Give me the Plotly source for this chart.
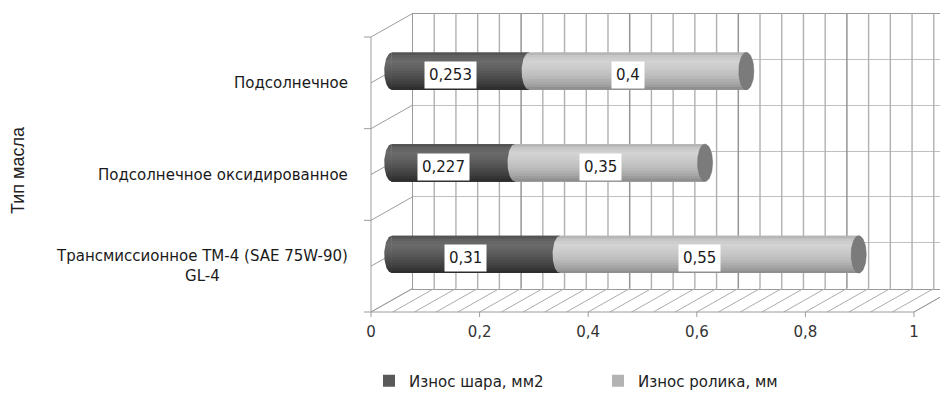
import numpy as np
import plotly.graph_objects as go

# ---------------- data ----------------
categories = ["Подсолнечное",
              "Подсолнечное оксидированное",
              "Трансмиссионное ТМ-4 (SAE 75W-90)<br>GL-4"]
ball_wear = [0.253, 0.227, 0.31]      # Износ шара, мм2
roller_wear = [0.4, 0.35, 0.55]       # Износ ролика, мм
series_names = ["Износ шара, мм2", "Износ ролика, мм"]
x_tick_vals = [0, 0.2, 0.4, 0.6, 0.8, 1.0]
x_tick_labels = ["0", "0,2", "0,4", "0,6", "0,8", "1"]
axis_title = "Тип масла"

# ---------------- geometry (pixels) ----------------
W, H = 940, 403
SX = 543.0             # px per value unit
SY = 275.0 / 3         # px per category
FX0, FY0 = 371.0, 312.0   # front plane: value 0 / bottom of category axis
DX, DY = 41.5, 23.5       # depth offset front -> back
MX0, MY0 = FX0 + DX / 2, FY0 - DY / 2   # mid-depth plane (bars)
n = len(categories)
cat_pos = [n - i - 0.5 for i in range(n)]
dxu, dyu = DX / SX, DY / SY

def rng_x(x0):
    return [(0 - x0) / SX, (W - x0) / SX]

def rng_y(y0):
    return [(y0 - H) / SY, y0 / SY]

FONT = "DejaVu Sans"

dark_scale = [[0, "#2a2a2a"], [0.12, "#383838"], [0.35, "#4e4e4e"], [0.6, "#626262"],
              [0.76, "#6b6b6b"], [0.9, "#606060"], [1, "#4e4e4e"]]
light_scale = [[0, "#888888"], [0.12, "#a0a0a0"], [0.35, "#bbbbbb"], [0.6, "#cccccc"],
               [0.76, "#d3d3d3"], [0.9, "#c6c6c6"], [1, "#adadad"]]
legend_colors = ["#595959", "#b3b3b3"]
cap_color = "#7b7b7b"

def hex2rgb(h):
    h = h.lstrip("#")
    return [int(h[i:i + 2], 16) for i in (0, 2, 4)]

def sample(scale, t):
    for (p0, c0), (p1, c1) in zip(scale[:-1], scale[1:]):
        if p0 <= t <= p1:
            f = (t - p0) / (p1 - p0) if p1 > p0 else 0
            a, b = hex2rgb(c0), hex2rgb(c1)
            r = [round(a[k] + (b[k] - a[k]) * f) for k in range(3)]
            return "rgb(%d,%d,%d)" % tuple(r)
    return scale[-1][1]

fig = go.Figure()

# ---------------- back wall frame (axes x/y, native horizontal grid) ----------------
back_x0 = FX0 + DX
back_xmax = (W - back_x0) / SX
fig.add_trace(go.Scatter(x=[None], y=[None], mode="lines", xaxis="x", yaxis="y",
                         hoverinfo="skip", showlegend=False))

# back wall vertical grid lines as shapes (in front-axis units, shifted by depth)
shapes = []
for k in range(1, 60):
    v = round(k * 0.04, 4)
    if v > back_xmax:
        break
    major = (k % 5 == 0)
    shapes.append(dict(type="line", xref="x2", yref="y2", x0=v + dxu, x1=v + dxu,
                       y0=dyu, y1=n + dyu, layer="between",
                       line=dict(color="#959595" if major else "#b0b0b0",
                                 width=1.5 if major else 1.4)))

# ---------------- floor, left wall (front axis x2/y2) ----------------
grid_vals = np.round(np.arange(0, 1.0001, 0.04), 4)
hx, hy = [], []
for v in grid_vals:
    hx += [v, v + dxu, None]
    hy += [0, dyu, None]
fig.add_trace(go.Scatter(x=hx, y=hy, mode="lines", line=dict(color="#acacac", width=1),
                         xaxis="x2", yaxis="y2", hoverinfo="skip", showlegend=False,
                         cliponaxis=False))
ex, ey = [], []
for u in np.arange(0, n + 0.001, 0.5):
    ex += [0, dxu, None]
    ey += [u, u + dyu, None]
ex += [0, 0, None, 0, 1, None, 1, 1 + dxu, None]
ey += [0, n, None, 0, 0, None, 0, dyu, None]
for v in x_tick_vals:
    ex += [v, v, None]
    ey += [0, -5 / SY, None]
for u in range(n + 1):
    ex += [0, -7 / SX, None]
    ey += [u, u, None]
fig.add_trace(go.Scatter(x=ex, y=ey, mode="lines", line=dict(color="#9c9c9c", width=1),
                         xaxis="x2", yaxis="y2", hoverinfo="skip", showlegend=False,
                         cliponaxis=False))

# ---------------- cylinders (bars on x3/y3) ----------------
h = 0.2035
NB = 14
bases_list = [[0] * n, ball_wear]
vals_list = [ball_wear, roller_wear]
scales = [dark_scale, light_scale]
for s in range(2):
    fig.add_trace(go.Bar(y=cat_pos, x=vals_list[s], base=bases_list[s], orientation="h",
                         width=2 * h, offset=-h, marker=dict(color=legend_colors[s], line=dict(width=0)),
                         name=series_names[s], xaxis="x3", yaxis="y3", hoverinfo="skip",
                         showlegend=True, legendrank=s))
    for j in reversed(range(NB)):
        fig.add_trace(go.Bar(y=cat_pos, x=vals_list[s], base=bases_list[s], orientation="h",
                             width=(j + 1) * 2 * h / NB, offset=-h,
                             marker=dict(color=sample(scales[s], (j + 0.5) / NB), line=dict(width=0)),
                             xaxis="x3", yaxis="y3", hoverinfo="skip", showlegend=False))

a = 7.5 / SX
t = np.linspace(-np.pi / 2, np.pi / 2, 40)
for s in range(2):
    for i in range(n):
        b = bases_list[s][i]
        c = cat_pos[i]
        fig.add_trace(go.Scatter(x=list(b - a * np.cos(t)), y=list(c + h * np.sin(t)),
                                 mode="lines", line=dict(width=0), fill="toself",
                                 fillgradient=dict(type="vertical", colorscale=scales[s],
                                                   start=c - h, stop=c + h),
                                 xaxis="x3", yaxis="y3", hoverinfo="skip", showlegend=False))
tt = np.linspace(0, 2 * np.pi, 60)
for i in range(n):
    e = ball_wear[i] + roller_wear[i]
    c = cat_pos[i]
    fig.add_trace(go.Scatter(x=list(e + a * np.cos(tt)), y=list(c + h * np.sin(tt)),
                             mode="lines", line=dict(width=0.6, color="#6e6e6e"), fill="toself",
                             fillcolor=cap_color,
                             xaxis="x3", yaxis="y3", hoverinfo="skip", showlegend=False))

# ---------------- annotations ----------------
ann = []
for s in range(2):
    for i in range(n):
        v = vals_list[s][i]
        ann.append(dict(x=bases_list[s][i] + v / 2, y=cat_pos[i], xref="x3", yref="y3",
                        text=str(v).replace(".", ","), showarrow=False,
                        font=dict(family=FONT, size=15, color="#1a1a1a"),
                        bgcolor="white", borderpad=4, xshift=-10, yshift=-4))
for i in range(n):
    ann.append(dict(x=350 / W, xref="paper", xanchor="right", y=cat_pos[i], yref="y2",
                    text=categories[i], showarrow=False, align="center",
                    font=dict(family=FONT, size=15, color="#1a1a1a")))
ann.append(dict(x=18 / W, y=1 - 170 / H, xref="paper", yref="paper", text=axis_title,
                xanchor="center", yanchor="middle", textangle=-90, showarrow=False,
                font=dict(family="Liberation Sans Narrow, Liberation Sans", size=18, color="#222")))

back_ytop = FY0 - DY - n * SY
fig.update_layout(
    template="none",
    width=W, height=H,
    margin=dict(l=0, r=0, t=0, b=0, autoexpand=False),
    paper_bgcolor="white", plot_bgcolor="rgba(0,0,0,0)",
    separators=", ",
    barmode="overlay",
    annotations=ann,
    shapes=shapes,
    # back wall frame
    xaxis=dict(domain=[back_x0 / W, 1], range=[0, back_xmax],
               showgrid=False, showticklabels=False, ticks="", zeroline=False,
               showline=True, mirror=True, linecolor="#9a9a9a", linewidth=1, anchor="y"),
    yaxis=dict(domain=[1 - (FY0 - DY) / H, 1 - back_ytop / H], range=[0, n], tick0=0, dtick=0.5,
               showgrid=True, gridcolor="#c0c0c0", gridwidth=1.2, showticklabels=False, ticks="",
               zeroline=False, showline=True, mirror=True, linecolor="#9a9a9a", linewidth=1,
               anchor="x"),
    # front plane
    xaxis2=dict(domain=[0, 1], range=rng_x(FX0), anchor="free", position=1 - FY0 / H,
                tickvals=x_tick_vals, ticktext=x_tick_labels, ticks="", ticklen=5,
                showgrid=False, zeroline=False, showline=False,
                tickfont=dict(family=FONT, size=15, color="#333333"), ticklabelstandoff=9),
    yaxis2=dict(domain=[0, 1], range=rng_y(FY0), anchor="free", position=FX0 / W,
                showticklabels=False, ticks="", showgrid=False, zeroline=False, showline=False),
    # bars (mid depth)
    xaxis3=dict(domain=[0, 1], range=rng_x(MX0), anchor="y3", visible=False),
    yaxis3=dict(domain=[0, 1], range=rng_y(MY0), anchor="x3", visible=False),
    showlegend=True,
    legend=dict(orientation="h", x=598 / W, xanchor="center", y=1 - 381 / H, yanchor="middle",
                font=dict(family=FONT, size=15, color="#222222"), bgcolor="rgba(0,0,0,0)",
                itemwidth=30, traceorder="normal", entrywidth=184),
)

fig.write_html("out.html")
